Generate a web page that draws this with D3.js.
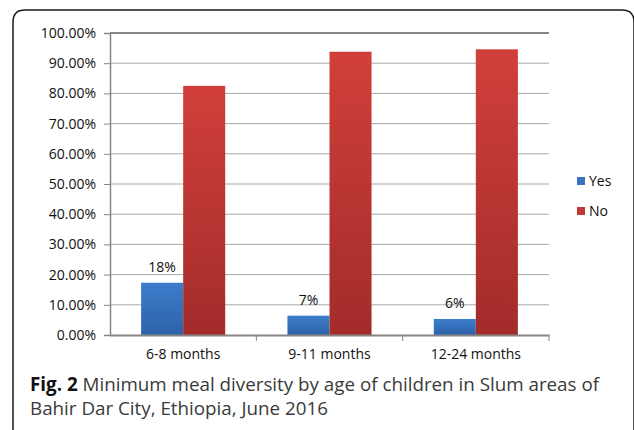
<!DOCTYPE html>
<html><head><meta charset="utf-8">
<script src="https://cdn.jsdelivr.net/npm/d3@7"></script>
<style>body{margin:0;background:#fff}svg{display:block}</style>
</head><body>
<script>
const categories = ["6-8 months", "9-11 months", "12-24 months"];
const seriesNames = ["Yes", "No"];
const yesValues = [0.173, 0.064, 0.053];
const noValues = [0.825, 0.938, 0.946];
const yesLabels = ["18%", "7%", "6%"];
const yTicks = [0,0.1,0.2,0.3,0.4,0.5,0.6,0.7,0.8,0.9,1.0];

(function(){
const W=634,H=430;
const svg=d3.select("body").append("svg").attr("width",W).attr("height",H);
const defs=svg.append("defs");
function grad(id,c1,c2){
  const g=defs.append("linearGradient").attr("id",id).attr("x1",0).attr("y1",0).attr("x2",0).attr("y2",1);
  g.append("stop").attr("offset","0%").attr("stop-color",c1);
  g.append("stop").attr("offset","100%").attr("stop-color",c2);
}
grad("gYes","#3b7dcc","#2f62a8");
grad("gNo","#d13f3b","#a22c2a");
const fills={Yes:"url(#gYes)",No:"url(#gNo)"};
const legendColors={Yes:"#3a74c0",No:"#c2393a"};

// frame
svg.append("path").attr("d","M13,440 L13,22 Q13,10 25,10 L622,10 Q634,10 634,22 L634,440")
  .attr("fill","none").attr("stroke","#1a1a1a").attr("stroke-width",1.5);

const pL=110,pR=549,pT=33,pB=335;
const x=d3.scaleBand().domain(categories).range([pL,pR]).paddingInner(0).paddingOuter(0);
const xs=d3.scaleBand().domain(seriesNames).range([0,x.bandwidth()]).paddingInner(0).paddingOuter(0.74);
const y=d3.scaleLinear().domain([0,1]).range([pB,pT]);

const font="'Open Sans', sans-serif";
// gridlines
svg.append("g").selectAll("line").data(yTicks.filter(d=>d>0)).join("line")
  .attr("x1",pL).attr("x2",pR).attr("y1",d=>y(d)).attr("y2",d=>y(d))
  .attr("stroke",d=>d===1?"#878787":"#a8a8a8").attr("stroke-width",d=>d===1?2:1);

// y axis
const ya=svg.append("g").attr("transform",`translate(${pL},0)`)
  .call(d3.axisLeft(y).tickValues(yTicks).tickFormat(d=>(d*100).toFixed(2)+"%").tickSize(6).tickPadding(8));
ya.select(".domain").attr("stroke","#868686").attr("stroke-width",1.5);
ya.selectAll(".tick line").attr("stroke","#868686");
ya.selectAll("text").attr("font-family",font).attr("font-size",14).attr("fill","#111");

// bars
const data=categories.map((c,i)=>({c,Yes:yesValues[i],No:noValues[i],lab:yesLabels[i]}));
const g=svg.append("g");
data.forEach(d=>{
  seriesNames.forEach(s=>{
    g.append("rect").attr("x",x(d.c)+xs(s)).attr("width",xs.bandwidth())
      .attr("y",y(d[s])).attr("height",y(0)-y(d[s])).attr("fill",fills[s]);
  });
  g.append("text").attr("x",x(d.c)+xs("Yes")+xs.bandwidth()/2).attr("y",y(d.Yes)-11)
    .attr("text-anchor","middle").attr("font-family",font).attr("font-size",14).attr("fill","#111").text(d.lab);
});

// x axis
const xa=svg.append("g").attr("transform",`translate(0,${pB})`)
  .call(d3.axisBottom(x).tickSize(0).tickPadding(14));
xa.select(".domain").attr("stroke","#868686").attr("stroke-width",2);
xa.selectAll("text").attr("font-family",font).attr("font-size",14).attr("fill","#111");
svg.append("g").selectAll("line").data(categories.slice(1)).join("line")
  .attr("x1",d=>x(d)).attr("x2",d=>x(d)).attr("y1",pB).attr("y2",pB+6)
  .attr("stroke","#868686");
svg.append("line").attr("x1",pR).attr("x2",pR).attr("y1",pB).attr("y2",pB+6).attr("stroke","#868686");

// legend
const lg=svg.append("g");
seriesNames.forEach((s,i)=>{
  const yy=181+i*30;
  lg.append("rect").attr("x",577).attr("y",yy-4).attr("width",8).attr("height",8).attr("fill",legendColors[s]);
  lg.append("text").attr("x",589).attr("y",yy+5).attr("font-family",font).attr("font-size",14).attr("fill","#111").text(s);
});

// caption
const cap=svg.append("text").attr("font-family",font).attr("font-size",18.8).attr("fill","#3a3a3a");
const t1=cap.append("tspan").attr("x",30).attr("y",391);
t1.append("tspan").attr("font-weight","bold").attr("fill","#111").text("Fig. 2");
t1.append("tspan").text(" Minimum meal diversity by age of children in Slum areas of");
cap.append("tspan").attr("x",30).attr("y",415).text("Bahir Dar City, Ethiopia, June 2016");
})();
</script>
</body></html>
